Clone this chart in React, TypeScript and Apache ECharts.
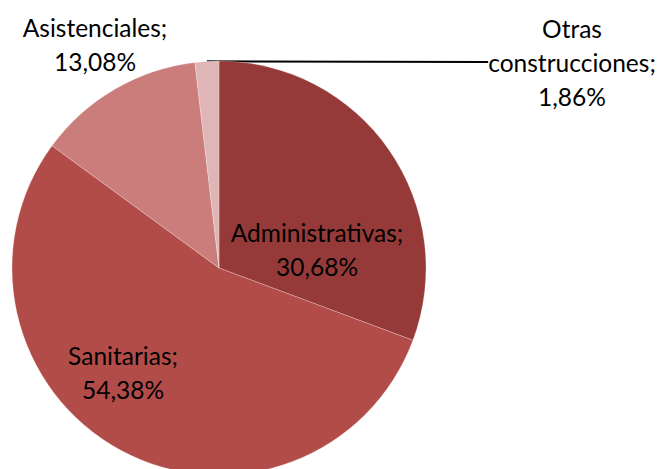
import React, { useEffect, useRef } from "react";
import * as echarts from "echarts";

const categories = ["Administrativas", "Sanitarias", "Asistenciales", "Otras construcciones"];
const labelNames = ["Administrativas", "Sanitarias", "Asistenciales", "Otras\nconstrucciones"];
const values = [30.68, 54.38, 13.08, 1.86];
const colors = ["#953A38", "#B24C49", "#CA7D7B", "#DFB6B5"];
const labelSpots: [number, number][] = [
  [317, 249],
  [123, 372],
  [95, 44],
  [572, 62],
];

export default function App() {
  const ref = useRef<HTMLDivElement>(null);
  useEffect(() => {
    if (!ref.current) return;
    const chart = echarts.init(ref.current, undefined, { renderer: "svg" });
    chart.setOption({
      animation: false,
      backgroundColor: "#ffffff",
      series: [
        {
          type: "pie",
          center: [219, 268],
          radius: 207,
          startAngle: 90,
          clockwise: true,
          avoidLabelOverlap: false,
          itemStyle: { borderColor: "rgba(255,255,255,0.5)", borderWidth: 0.5 },
          label: {
            show: true,
            position: "outside",
            color: "#000000",
            fontFamily: "Lato",
            fontSize: 24.5,
            lineHeight: 34,
            align: "center",
            formatter: (p: any) =>
              labelNames[p.dataIndex] + ";\n" + values[p.dataIndex].toFixed(2).replace(".", ",") + "%",
          },
          labelLine: { show: true, length: 0, length2: 0, lineStyle: { color: "#000000", width: 2 } },
          labelLayout: (p: any) => {
            const s = labelSpots[p.dataIndex];
            return { x: s[0], y: s[1], align: "center", verticalAlign: "middle" };
          },
          data: categories.map((c, i) => ({
            name: c,
            value: values[i],
            itemStyle: { color: colors[i] },
            labelLine: { show: i === 3 },
          })),
        },
      ],
    });
    return () => chart.dispose();
  }, []);
  return <div ref={ref} style={{ position: "fixed", left: 0, top: 0, width: 663, height: 469 }} />;
}
